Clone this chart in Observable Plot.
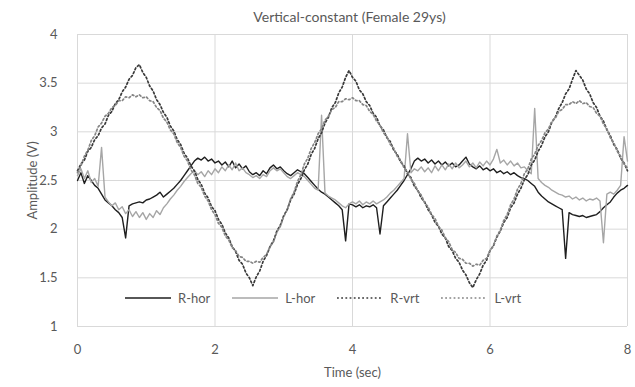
<!DOCTYPE html>
<html><head><meta charset="utf-8">
<script src="https://cdn.jsdelivr.net/npm/d3@7"></script>
<script src="https://cdn.jsdelivr.net/npm/@observablehq/plot@0.6"></script>
<style>
body{margin:0;background:#fff;font-family:Lato, sans-serif;}
#wrap{position:relative;width:635px;height:387px;overflow:hidden;}
#title{height:26px;box-sizing:border-box;padding-top:9px;padding-left:64px;text-align:center;font-size:14px;line-height:16px;color:#595959;}
#legend{position:absolute;left:125px;top:290px;display:flex;align-items:center;height:16px;font-size:13px;color:#595959;}
#legend .item{display:flex;align-items:center;margin-right:22px;}
#legend svg{margin-right:7px;}
</style></head>
<body>
<div id="wrap"><div id="title"></div><div id="chart"></div><div id="legend"></div></div>
<script>
const titleText = "Vertical-constant (Female 29ys)";
const xLabel = "Time (sec)";
const yLabel = "Amplitude (V)";
const xTicks = [0, 2, 4, 6, 8];
const yTicks = [1, 1.5, 2, 2.5, 3, 3.5, 4];
const seriesNames = ["R-hor", "L-hor", "R-vrt", "L-vrt"];

// samples every 0.05 s from 0 to 8
const time = d3.range(161).map(i => +(i * 0.05).toFixed(2));

const rHor = [
2.50,2.58,2.47,2.55,2.50,2.45,2.42,2.36,2.30,2.27,2.24,2.20,2.17,2.12,1.91,2.24,2.26,2.27,2.28,2.27,
2.30,2.31,2.33,2.35,2.38,2.33,2.36,2.39,2.42,2.46,2.50,2.55,2.60,2.65,2.70,2.73,2.71,2.74,2.70,2.72,
2.68,2.70,2.66,2.69,2.64,2.70,2.63,2.67,2.62,2.65,2.59,2.56,2.58,2.55,2.60,2.57,2.63,2.66,2.62,2.64,
2.60,2.57,2.55,2.58,2.61,2.59,2.57,2.53,2.49,2.45,2.41,2.38,2.36,2.33,2.30,2.27,2.24,2.20,1.88,2.26,
2.25,2.23,2.25,2.22,2.24,2.23,2.25,2.22,1.95,2.24,2.28,2.32,2.36,2.40,2.45,2.50,2.56,2.62,2.70,2.73,
2.70,2.72,2.68,2.71,2.67,2.70,2.66,2.69,2.65,2.68,2.64,2.66,2.70,2.74,2.67,2.64,2.62,2.65,2.61,2.63,
2.60,2.62,2.58,2.60,2.57,2.59,2.56,2.58,2.55,2.53,2.52,2.50,2.47,2.44,2.38,2.34,2.31,2.28,2.26,2.24,
2.22,2.20,1.70,2.17,2.15,2.14,2.13,2.14,2.12,2.13,2.14,2.15,2.18,2.22,2.25,2.28,2.33,2.37,2.40,2.42,
2.45];

const lHor = [
2.55,2.62,2.52,2.60,2.48,2.52,2.44,2.84,2.33,2.28,2.24,2.27,2.20,2.23,2.16,2.20,2.13,2.18,2.12,2.17,
2.10,2.16,2.12,2.19,2.15,2.22,2.26,2.31,2.35,2.40,2.44,2.49,2.53,2.57,2.60,2.56,2.59,2.54,2.60,2.56,
2.62,2.58,2.64,2.60,2.66,2.61,2.68,2.60,2.63,2.58,2.56,2.53,2.55,2.52,2.56,2.54,2.60,2.63,2.60,2.62,
2.58,2.54,2.52,2.55,2.58,2.56,2.54,2.50,2.46,2.42,2.40,3.17,2.37,2.34,2.32,2.30,2.27,2.24,2.22,2.26,
2.28,2.26,2.29,2.25,2.28,2.26,2.29,2.26,2.28,2.30,2.33,2.37,2.40,2.44,2.48,2.52,2.98,2.58,2.62,2.60,
2.64,2.59,2.63,2.58,2.65,2.60,2.66,2.61,2.67,2.62,2.68,2.63,2.66,2.70,2.64,2.68,2.63,2.69,2.65,2.70,
2.66,2.72,2.82,2.68,2.71,2.66,2.70,2.65,2.68,2.63,2.64,2.60,2.57,3.24,2.52,2.48,2.45,2.43,2.40,2.38,
2.36,2.35,2.33,2.34,2.31,2.33,2.30,2.32,2.29,2.31,2.30,2.32,2.29,1.86,2.36,2.38,2.36,2.40,2.45,2.95,
2.70];

const rVrt = [
2.60,2.67,2.71,2.80,2.84,2.92,2.96,3.04,3.08,3.17,3.21,3.29,3.33,3.41,3.46,3.54,3.58,3.66,3.69,3.61,
3.56,3.47,3.42,3.33,3.28,3.20,3.15,3.06,3.01,2.92,2.87,2.78,2.73,2.65,2.60,2.51,2.46,2.37,2.32,2.23,
2.19,2.10,2.05,1.96,1.91,1.82,1.77,1.68,1.64,1.55,1.50,1.42,1.51,1.57,1.67,1.73,1.82,1.88,1.98,2.04,
2.14,2.20,2.30,2.36,2.46,2.52,2.61,2.67,2.77,2.83,2.93,2.99,3.09,3.15,3.25,3.30,3.40,3.46,3.56,3.63,
3.56,3.52,3.43,3.39,3.31,3.27,3.19,3.15,3.06,3.02,2.94,2.90,2.81,2.77,2.69,2.65,2.57,2.53,2.44,2.40,
2.32,2.28,2.20,2.15,2.07,2.03,1.95,1.91,1.82,1.78,1.70,1.66,1.58,1.53,1.45,1.40,1.48,1.54,1.63,1.68,
1.78,1.83,1.92,1.98,2.07,2.12,2.22,2.27,2.36,2.42,2.51,2.56,2.66,2.71,2.80,2.86,2.95,3.00,3.10,3.15,
3.24,3.30,3.39,3.44,3.54,3.63,3.58,3.53,3.44,3.39,3.30,3.25,3.16,3.11,3.02,2.96,2.87,2.82,2.73,2.68,
2.60];

const lVrt = [
2.58,2.65,2.75,2.81,2.91,2.96,3.05,3.09,3.16,3.19,3.25,3.27,3.32,3.32,3.36,3.35,3.38,3.36,3.38,3.35,
3.36,3.32,3.31,3.25,3.22,3.14,3.10,3.02,2.98,2.89,2.84,2.75,2.70,2.61,2.56,2.47,2.43,2.34,2.29,2.20,
2.15,2.06,2.02,1.93,1.89,1.81,1.78,1.72,1.71,1.67,1.67,1.65,1.67,1.66,1.71,1.74,1.82,1.87,1.97,2.03,
2.13,2.20,2.31,2.38,2.49,2.56,2.67,2.73,2.83,2.89,2.98,3.03,3.12,3.16,3.23,3.25,3.31,3.31,3.34,3.33,
3.35,3.32,3.32,3.28,3.27,3.21,3.18,3.11,3.07,2.99,2.95,2.87,2.83,2.75,2.71,2.63,2.59,2.51,2.47,2.39,
2.35,2.27,2.23,2.15,2.11,2.03,1.99,1.91,1.87,1.79,1.76,1.70,1.69,1.65,1.65,1.62,1.64,1.63,1.68,1.70,
1.78,1.83,1.93,1.99,2.09,2.15,2.25,2.31,2.41,2.47,2.57,2.62,2.72,2.77,2.86,2.91,2.99,3.03,3.11,3.14,
3.21,3.23,3.28,3.28,3.31,3.29,3.32,3.29,3.30,3.26,3.25,3.19,3.16,3.08,3.03,2.94,2.89,2.80,2.75,2.67,
2.63];

const seriesValues = [rHor, lHor, rVrt, lVrt];
const seriesStyle = [
  {stroke: "#1f1f1f", dash: null, width: 1.4},
  {stroke: "#a6a6a6", dash: null, width: 1.4},
  {stroke: "#3a3a3a", dash: "1.8,2.4", width: 1.7},
  {stroke: "#858585", dash: "1.8,2.4", width: 1.7}
];

document.getElementById("title").textContent = titleText;

const lineMarks = seriesValues.map((vals, k) =>
  Plot.line(vals, {
    x: (d, i) => time[i], y: d => d,
    stroke: seriesStyle[k].stroke,
    strokeWidth: seriesStyle[k].width,
    strokeDasharray: seriesStyle[k].dash,
    strokeLinejoin: "round"
  })
);

const chart = Plot.plot({
  width: 635, height: 361,
  marginTop: 8, marginBottom: 61, marginLeft: 77, marginRight: 8,
  style: {fontFamily: "Lato, sans-serif", fontSize: "13px", color: "#595959", background: "transparent"},
  x: {domain: [0, 8]},
  y: {domain: [1, 4]},
  marks: [
    Plot.gridX(xTicks, {stroke: "#d9d9d9", strokeOpacity: 1}),
    Plot.gridY(yTicks, {stroke: "#d9d9d9", strokeOpacity: 1}),
    Plot.axisX(xTicks, {tickSize: 0, tickPadding: 18, tickFormat: d => String(d), label: xLabel, labelAnchor: "center", labelArrow: false, labelOffset: 50}),
    Plot.axisY(yTicks, {tickSize: 0, tickPadding: 20, tickFormat: d => String(d), label: yLabel, labelAnchor: "center", labelArrow: false, labelOffset: 50}),
    ...lineMarks
  ]
});
document.getElementById("chart").appendChild(chart);

// legend
const legend = document.getElementById("legend");
seriesNames.forEach((name, k) => {
  const item = document.createElement("div");
  item.className = "item";
  const s = seriesStyle[k];
  item.innerHTML = `<svg width="46" height="6"><line x1="0" y1="3" x2="46" y2="3" stroke="${s.stroke}" stroke-width="${s.width}" ${s.dash ? `stroke-dasharray="${s.dash}"` : ""}/></svg><span>${name}</span>`;
  legend.appendChild(item);
});
</script>
</body></html>
